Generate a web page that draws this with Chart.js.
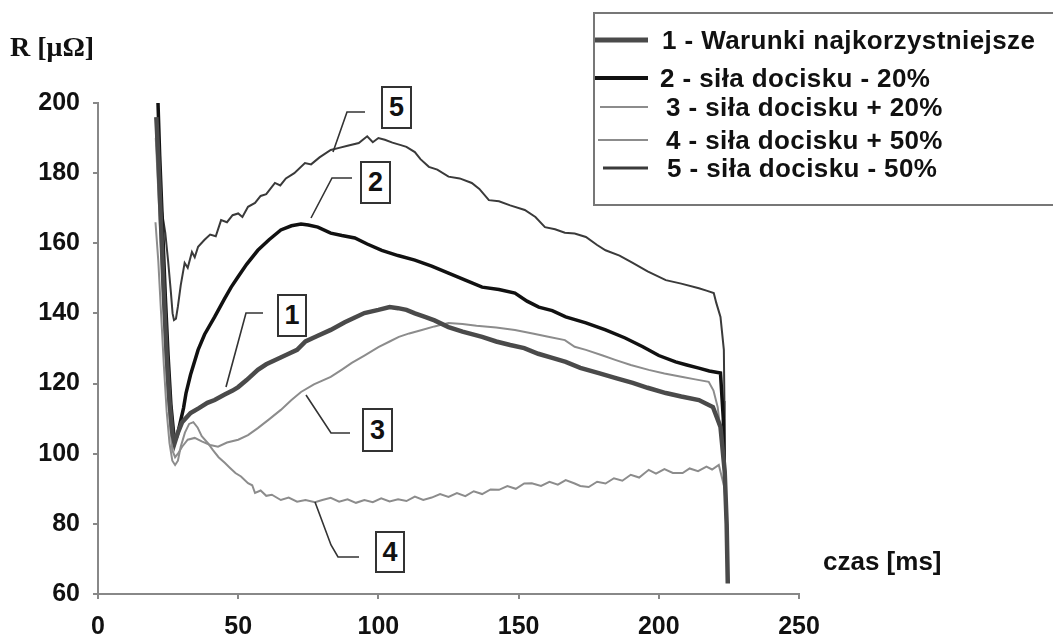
<!DOCTYPE html>
<html>
<head>
<meta charset="utf-8">
<title>R(t)</title>
<script src="https://cdn.jsdelivr.net/npm/chart.js@4.4.1/dist/chart.umd.min.js"></script>
<style>
  html, body { margin: 0; padding: 0; background: #fff; }
  #wrap { position: relative; width: 1053px; height: 639px; overflow: hidden;
          font-family: "Liberation Sans", Arial, sans-serif; font-weight: bold; color: #111; }
  #chart { position: absolute; left: 0; top: 0; }
  #marks { position: absolute; left: 0; top: 0; }
  .legend { position: absolute; left: 593px; top: 12px; width: 480px; height: 194px;
            border: 2px solid #777; box-sizing: border-box; }
  .entry { position: absolute; font-size: 26px; line-height: 26px; white-space: nowrap; letter-spacing: 0.4px; }
  .tag { position: absolute; box-sizing: border-box; border: 2px solid #333; background: #fff;
         font-size: 27px; display: flex; align-items: center; justify-content: center; }
  .title { position: absolute; white-space: nowrap; }
</style>
</head>
<body>
<div id="wrap">
  <canvas id="chart" width="1053" height="639"></canvas>
  <svg id="marks" width="1053" height="639"></svg>
  <div class="legend"></div>
  <div id="texts"></div>
</div>
<script>
// serie: nazwy i styl
const seriesNames = [
  '1 - Warunki najkorzystniejsze',
  '2 - siła docisku - 20%',
  '3 - siła docisku + 20%',
  '4 - siła docisku + 50%',
  '5 - siła docisku - 50%'
];

// [czas ms, R µΩ]
const curve1 = [[20.8,196],[21.5,185],[22.5,165],[23.5,145],[24.5,128],[25.5,115],[26.5,106],[27.3,103],[28.5,106],[30,109],[33,111.6],[36,113],[39,114.5],[41.6,115.3],[45,116.8],[48,118],[50,119],[53,121],[57,123.9],[60,125.5],[64,127],[68,128.5],[71,129.6],[74,132],[78,133.5],[83,135.3],[88,137.5],[92,139],[95,140.1],[100,141],[104,141.8],[107,141.5],[110,141],[113,140],[116.6,139],[120,138],[125,136.1],[130,134.8],[137,133.3],[142,132],[147,131],[152,130.1],[157,128.5],[162,127.3],[166.8,126.2],[172,124.5],[178.6,123],[185,121.5],[190.7,120.2],[196,118.8],[202.5,117.3],[208,116.3],[214.3,115.3],[219.3,113.3],[222,107.6],[223.5,95],[224.2,80],[224.6,63]];
const curve2 = [[21.4,200],[22,185],[23,165],[24,145],[25,128],[26,114],[27.2,104],[28.2,105],[29.3,108.8],[30.5,113],[31.4,117.3],[33,122.5],[35.7,129.6],[38,134],[41.6,139],[45,144],[47.5,147.5],[49.9,150.4],[53,154],[57,158],[61,161],[65.2,163.8],[69,165],[72.4,165.5],[75,165.2],[78.4,164.6],[83,162.9],[87,162.2],[91.6,161.5],[96,159.8],[101.2,158],[107,156.5],[113,155.2],[119,153.5],[125,151.5],[131,149.5],[137,147.5],[143,146.8],[148.7,145.8],[153,143.5],[157.2,141.8],[162,140.8],[166.8,139],[174,137.3],[181,135.3],[188,133],[194.3,130.5],[200,128],[206,126.2],[210,125.3],[214.3,124.4],[218,123.6],[222,123],[223,110],[223.3,98]];
const curve3 = [[20.6,190],[21.5,175],[22.5,158],[23.5,140],[24.5,122],[25.5,110],[26.5,101],[27.5,99],[28.5,100],[30,102],[32,104],[34.5,104.5],[37,103.5],[40,102.5],[42.8,102],[46,103.2],[50,104],[53.5,105.3],[57,107.3],[61,109.8],[65.2,112.5],[69,115.3],[72.4,117.6],[77,119.8],[83,121.9],[87,124],[90.5,125.9],[95,128],[100,130.4],[104,132],[107.3,133.3],[111,134.3],[115.5,135.3],[120,136.3],[125,137.3],[130,137],[135,136.5],[142,136],[148.7,135.3],[155,134.3],[161,133.3],[166.5,132.4],[170,130.5],[174,129.6],[180,128],[184.7,126.7],[190,125.3],[196.4,123.9],[202,122.9],[208.5,121.9],[213,121.2],[217.8,120.5],[219.5,118],[221,113.3],[223,100],[224,80]];
const curve4 = [[20.5,166],[21.5,155],[22.5,140],[23.5,125],[24.5,112],[25.5,103],[26.5,98],[27.5,96.8],[28.5,98],[29.5,102],[31,106],[32.5,108.5],[34,109],[35.5,107.5],[37,105],[39.2,103],[41,101],[43,99],[45.2,97.4],[47,96],[49,94.5],[51,93.5],[53.5,91.6],[55,91],[56,88.8],[58,89.5],[60,88],[62,88.3],[65.2,86.8],[68,87.5],[71,86.3],[74,86.8],[77.4,86.2],[80,86.8],[83,87.4],[86,86.3],[89,87],[92,86],[95,86.8],[98,86.2],[101,87.3],[104,86.4],[107,87],[110,86.5],[113,87.8],[116,86.8],[119,87.5],[122,88.5],[125,87.7],[128,88.8],[131,87.9],[134,89.3],[137,88.5],[140,89.8],[143,89.7],[146,90.8],[149,90],[152,91.5],[154.7,91.6],[158,90.8],[161,92],[164,91.2],[166.8,92.5],[170,91.5],[172,90.8],[175,90.5],[178,92],[181,91.5],[184,93],[187,92.3],[190,94],[193,93.2],[196.4,95.4],[199,94.3],[202,95.6],[205,94.5],[208.5,94.5],[211,95.8],[214,95],[217,96.3],[219,95.5],[221.4,96.8],[223.5,90],[224.3,75]];
const curve5 = [[20.7,192],[21.2,185],[22,175],[23,168],[24,163],[25,155],[26,146],[26.6,140],[27.1,138.1],[27.8,138.5],[28.5,142],[29.5,148],[30.9,154.4],[32,153],[33.5,157.5],[34.5,156],[35.7,159],[38,161],[40,162.5],[42,162],[43.9,166.6],[46,166],[48,168],[50,168.5],[51.5,167.5],[53.5,170.4],[56,171.5],[58,173.5],[60,174],[63.1,177.2],[65,176.5],[67,178.5],[70,180],[73.8,182.9],[76,182.5],[79,184.5],[83,186.6],[86,187.2],[89,187.8],[93,188.6],[96,190.5],[98,188.8],[100,190],[102.3,189.5],[105,188.7],[108,188],[110,187.5],[113,186],[115,184],[118,181.8],[121,181],[125,179],[129,178.5],[133.3,177.2],[136,175.5],[139.4,172.3],[143,172],[147,170.8],[152.2,169.5],[156,167.5],[159.4,164.6],[163,164],[166.5,163],[170,162.8],[174,161.8],[178,159.5],[181,158],[186,156.5],[190.7,154.4],[196,152],[202.5,149.5],[208,148.5],[214.3,147.2],[217,146.5],[219.6,145.8],[220.5,143],[222,139],[223.2,129.6],[223.4,115],[223.5,98]];

const curves = [curve1, curve2, curve3, curve4, curve5];
const lineColors = ['#4a4a4a', '#111111', '#8c8c8c', '#8c8c8c', '#3a3a3a'];
const lineWidths = [4.5, 3.5, 2, 2, 2];

const xTicksStep = 50;
const yTicksStep = 20;

const tickFont = { family: '"Liberation Sans", Arial, sans-serif', size: 25, weight: 'bold' };

new Chart(document.getElementById('chart'), {
  type: 'line',
  data: {
    datasets: curves.map((c, i) => ({
      label: seriesNames[i],
      data: c.map(p => ({ x: p[0], y: p[1] })),
      borderColor: lineColors[i],
      borderWidth: lineWidths[i],
      pointRadius: 0,
      tension: 0,
      fill: false
    }))
  },
  options: {
    responsive: false,
    animation: false,
    layout: { padding: { top: 103, right: 254, left: 0, bottom: 0 } },
    plugins: { legend: { display: false }, tooltip: { enabled: false } },
    scales: {
      x: {
        type: 'linear', min: 0, max: 250,
        ticks: { stepSize: xTicksStep, color: '#111', font: tickFont, padding: 13, maxRotation: 0 },
        grid: { drawOnChartArea: false, color: '#888', tickLength: 5, lineWidth: 2 },
        border: { color: '#888', width: 2 },
        afterFit: (s) => { s.height = 45; }
      },
      y: {
        min: 60, max: 200,
        ticks: { stepSize: yTicksStep, color: '#111', font: tickFont, padding: 13 },
        grid: { drawOnChartArea: false, color: '#888', tickLength: 5, lineWidth: 2 },
        border: { color: '#888', width: 2 },
        afterFit: (s) => { s.width = 98; }
      }
    }
  }
});

// legenda, etykiety, linie odniesienia
const svg = document.getElementById('marks');
const texts = document.getElementById('texts');
const NS = 'http://www.w3.org/2000/svg';

const legendY = [40, 78, 107, 140, 168];
const legendX0 = [595, 595, 600, 598, 603];
const legendTextX = [662, 660, 666, 666, 667];
const legendWidths = [5, 4, 2, 2, 3];

seriesNames.forEach((name, i) => {
  const l = document.createElementNS(NS, 'line');
  l.setAttribute('x1', legendX0[i]); l.setAttribute('x2', 648);
  l.setAttribute('y1', legendY[i]); l.setAttribute('y2', legendY[i]);
  l.setAttribute('stroke', lineColors[i]); l.setAttribute('stroke-width', legendWidths[i]);
  svg.appendChild(l);
  const d = document.createElement('div');
  d.className = 'entry';
  d.style.left = legendTextX[i] + 'px';
  d.style.top = (legendY[i] - 13) + 'px';
  d.textContent = name;
  texts.appendChild(d);
});

const leaders = [
  [[365,112],[347,112],[333,152]],
  [[352,178],[332,178],[311,218]],
  [[263,313],[246,313],[226,387]],
  [[350,433],[331,433],[306,395]],
  [[359,557],[338,557],[331,545],[315,502]]
];
leaders.forEach(pts => {
  const p = document.createElementNS(NS, 'polyline');
  p.setAttribute('points', pts.map(q => q.join(',')).join(' '));
  p.setAttribute('fill', 'none');
  p.setAttribute('stroke', '#333');
  p.setAttribute('stroke-width', 1.6);
  svg.appendChild(p);
});

const tags = [
  ['5', 381, 86, 31, 43],
  ['2', 360, 161, 31, 43],
  ['1', 277, 294, 30, 43],
  ['3', 362, 408, 31, 44],
  ['4', 375, 531, 30, 42]
];
tags.forEach(t => {
  const d = document.createElement('div');
  d.className = 'tag';
  d.style.left = t[1] + 'px'; d.style.top = t[2] + 'px';
  d.style.width = t[3] + 'px'; d.style.height = t[4] + 'px';
  d.textContent = t[0];
  texts.appendChild(d);
});

const yTitle = document.createElement('div');
yTitle.className = 'title';
yTitle.style.cssText = 'left:10px;top:31px;font-family:"Liberation Serif","Times New Roman",serif;font-size:28px;line-height:32px;';
yTitle.textContent = 'R [μΩ]';
texts.appendChild(yTitle);

const xTitle = document.createElement('div');
xTitle.className = 'title';
xTitle.style.cssText = 'left:823px;top:546px;font-size:26px;line-height:30px;';
xTitle.textContent = 'czas [ms]';
texts.appendChild(xTitle);
</script>
</body>
</html>
